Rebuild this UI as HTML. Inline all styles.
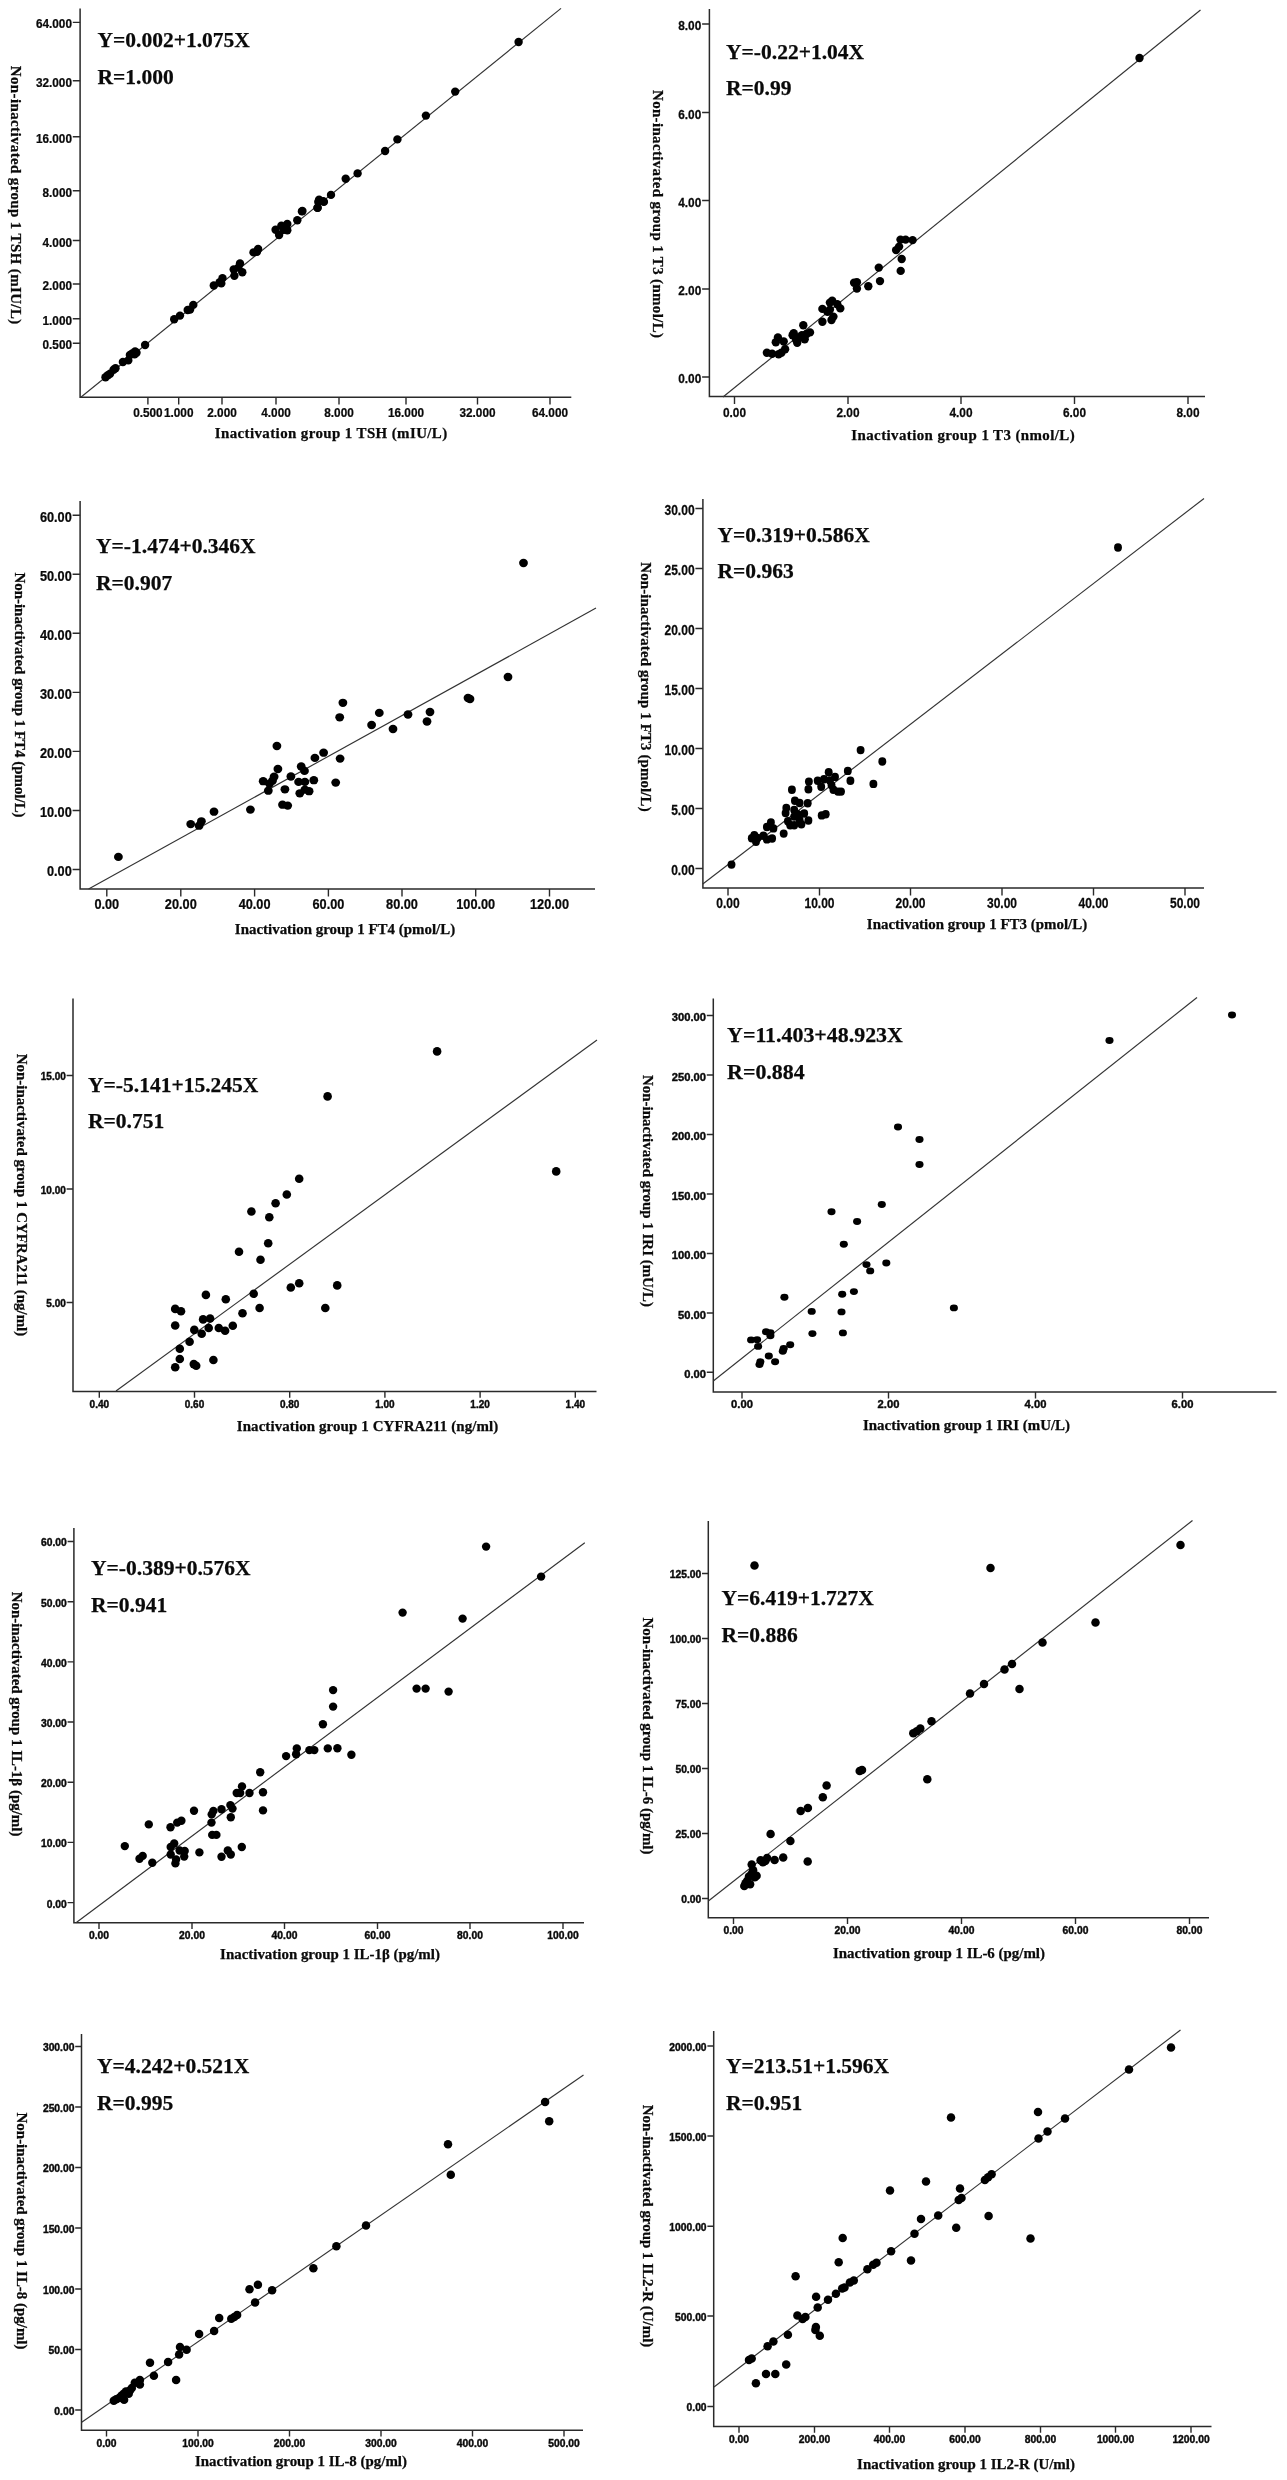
<!DOCTYPE html>
<html><head><meta charset="utf-8"><title>Figure</title>
<style>
html,body{margin:0;padding:0;background:#fff;}
svg{display:block;}
.t{font-family:"Liberation Sans",sans-serif;font-weight:bold;fill:#0a0a0a;stroke:#0a0a0a;}
.s{font-family:"Liberation Serif",serif;font-weight:bold;fill:#0a0a0a;stroke:#0a0a0a;stroke-width:0.25px;}
</style></head><body>
<svg style="will-change:transform;filter:blur(0.35px)" width="1287" height="2480" viewBox="0 0 1287 2480">
<rect width="1287" height="2480" fill="#fff"/>
<g id="p1">
<path d="M80.1 8.5V397.2H571.3" fill="none" stroke="#2a2a2a" stroke-width="1.5"/>
<path d="M80.1 22.4h-7.3M80.1 80.7h-7.3M80.1 136.8h-7.3M80.1 190.8h-7.3M80.1 240.5h-7.3M80.1 284h-7.3M80.1 318.7h-7.3M80.1 343.3h-7.3M147.9 397.2v7.3M178.7 397.2v7.3M222 397.2v7.3M276 397.2v7.3M339 397.2v7.3M406 397.2v7.3M477.5 397.2v7.3M550 397.2v7.3" fill="none" stroke="#2a2a2a" stroke-width="1.4"/>
<text class="t" font-size="13.0" stroke-width="0.25" text-anchor="end" transform="translate(72.0 28.4) scale(0.908 1)">64.000</text>
<text class="t" font-size="13.0" stroke-width="0.25" text-anchor="end" transform="translate(72.0 86.8) scale(0.908 1)">32.000</text>
<text class="t" font-size="13.0" stroke-width="0.25" text-anchor="end" transform="translate(72.0 142.9) scale(0.908 1)">16.000</text>
<text class="t" font-size="13.0" stroke-width="0.25" text-anchor="end" transform="translate(72.0 196.9) scale(0.908 1)">8.000</text>
<text class="t" font-size="13.0" stroke-width="0.25" text-anchor="end" transform="translate(72.0 246.6) scale(0.908 1)">4.000</text>
<text class="t" font-size="13.0" stroke-width="0.25" text-anchor="end" transform="translate(72.0 290.1) scale(0.908 1)">2.000</text>
<text class="t" font-size="13.0" stroke-width="0.25" text-anchor="end" transform="translate(72.0 324.8) scale(0.908 1)">1.000</text>
<text class="t" font-size="13.0" stroke-width="0.25" text-anchor="end" transform="translate(72.0 349.4) scale(0.908 1)">0.500</text>
<text class="t" font-size="13.0" stroke-width="0.25" text-anchor="middle" transform="translate(147.9 416.8) scale(0.908 1)">0.500</text>
<text class="t" font-size="13.0" stroke-width="0.25" text-anchor="middle" transform="translate(178.7 416.8) scale(0.908 1)">1.000</text>
<text class="t" font-size="13.0" stroke-width="0.25" text-anchor="middle" transform="translate(222.0 416.8) scale(0.908 1)">2.000</text>
<text class="t" font-size="13.0" stroke-width="0.25" text-anchor="middle" transform="translate(276.0 416.8) scale(0.908 1)">4.000</text>
<text class="t" font-size="13.0" stroke-width="0.25" text-anchor="middle" transform="translate(339.0 416.8) scale(0.908 1)">8.000</text>
<text class="t" font-size="13.0" stroke-width="0.25" text-anchor="middle" transform="translate(406.0 416.8) scale(0.908 1)">16.000</text>
<text class="t" font-size="13.0" stroke-width="0.25" text-anchor="middle" transform="translate(477.5 416.8) scale(0.908 1)">32.000</text>
<text class="t" font-size="13.0" stroke-width="0.25" text-anchor="middle" transform="translate(550.0 416.8) scale(0.908 1)">64.000</text>
<line x1="80.8" y1="397.2" x2="561" y2="8.4" stroke="#333" stroke-width="1.15"/>
<ellipse cx="105.5" cy="377.2" rx="4.2" ry="4.2"/><ellipse cx="107.8" cy="375.3" rx="4.2" ry="4.2"/><ellipse cx="110.1" cy="373.7" rx="4.2" ry="4.2"/><ellipse cx="113.6" cy="369.7" rx="4.2" ry="4.2"/><ellipse cx="115.5" cy="368.3" rx="4.2" ry="4.2"/><ellipse cx="122.9" cy="362.0" rx="4.2" ry="4.2"/><ellipse cx="128.3" cy="360.4" rx="4.2" ry="4.2"/><ellipse cx="129.9" cy="355.0" rx="4.2" ry="4.2"/><ellipse cx="132.3" cy="353.4" rx="4.2" ry="4.2"/><ellipse cx="135.1" cy="351.5" rx="4.2" ry="4.2"/><ellipse cx="136.5" cy="352.7" rx="4.2" ry="4.2"/><ellipse cx="134.6" cy="354.3" rx="4.2" ry="4.2"/><ellipse cx="145.1" cy="345.0" rx="4.2" ry="4.2"/><ellipse cx="174.2" cy="319.3" rx="4.2" ry="4.2"/><ellipse cx="180.0" cy="315.6" rx="4.2" ry="4.2"/><ellipse cx="187.7" cy="310.0" rx="4.2" ry="4.2"/><ellipse cx="190.1" cy="309.6" rx="4.2" ry="4.2"/><ellipse cx="193.3" cy="304.9" rx="4.2" ry="4.2"/><ellipse cx="213.8" cy="285.5" rx="4.2" ry="4.2"/><ellipse cx="219.7" cy="282.1" rx="4.2" ry="4.2"/><ellipse cx="221.3" cy="283.4" rx="4.2" ry="4.2"/><ellipse cx="222.5" cy="278.1" rx="4.2" ry="4.2"/><ellipse cx="233.7" cy="269.5" rx="4.2" ry="4.2"/><ellipse cx="234.4" cy="275.8" rx="4.2" ry="4.2"/><ellipse cx="238.3" cy="267.6" rx="4.2" ry="4.2"/><ellipse cx="240.0" cy="263.4" rx="4.2" ry="4.2"/><ellipse cx="242.3" cy="272.3" rx="4.2" ry="4.2"/><ellipse cx="253.5" cy="252.4" rx="4.2" ry="4.2"/><ellipse cx="257.0" cy="251.7" rx="4.2" ry="4.2"/><ellipse cx="258.1" cy="249.0" rx="4.2" ry="4.2"/><ellipse cx="275.6" cy="229.8" rx="4.2" ry="4.2"/><ellipse cx="279.1" cy="235.0" rx="4.2" ry="4.2"/><ellipse cx="281.4" cy="225.6" rx="4.2" ry="4.2"/><ellipse cx="283.8" cy="229.8" rx="4.2" ry="4.2"/><ellipse cx="287.3" cy="224.0" rx="4.2" ry="4.2"/><ellipse cx="287.3" cy="230.3" rx="4.2" ry="4.2"/><ellipse cx="297.3" cy="220.3" rx="4.2" ry="4.2"/><ellipse cx="302.4" cy="211.0" rx="4.2" ry="4.2"/><ellipse cx="317.6" cy="207.7" rx="4.2" ry="4.2"/><ellipse cx="318.3" cy="201.9" rx="4.2" ry="4.2"/><ellipse cx="323.9" cy="201.9" rx="4.2" ry="4.2"/><ellipse cx="518.6" cy="42.0" rx="4.2" ry="4.2"/><ellipse cx="455.2" cy="91.6" rx="4.2" ry="4.2"/><ellipse cx="425.9" cy="115.6" rx="4.2" ry="4.2"/><ellipse cx="397.4" cy="139.4" rx="4.2" ry="4.2"/><ellipse cx="385.1" cy="151.0" rx="4.2" ry="4.2"/><ellipse cx="357.6" cy="173.4" rx="4.2" ry="4.2"/><ellipse cx="345.7" cy="178.8" rx="4.2" ry="4.2"/><ellipse cx="331.0" cy="194.9" rx="4.2" ry="4.2"/><ellipse cx="323.3" cy="201.2" rx="4.2" ry="4.2"/><ellipse cx="319.1" cy="199.8" rx="4.2" ry="4.2"/><ellipse cx="317.5" cy="207.9" rx="4.2" ry="4.2"/><ellipse cx="301.9" cy="211.4" rx="4.2" ry="4.2"/>
<text class="s" font-size="21.5" x="97.5" y="46.8">Y=0.002+1.075X</text>
<text class="s" font-size="21.5" x="97.5" y="83.8">R=1.000</text>
<text class="s" font-size="14.93" letter-spacing="0.4" text-anchor="middle" x="331.2" y="437.5">Inactivation group 1 TSH (mIU/L)</text>
<text class="s" font-size="14.93" letter-spacing="0.4" text-anchor="middle" transform="translate(11.3 195.2) rotate(90)">Non-inactivated group 1 TSH (mIU/L)</text>
</g>
<g id="p2">
<path d="M709.4 9V396.6H1205" fill="none" stroke="#2a2a2a" stroke-width="1.5"/>
<path d="M709.4 24h-7.3M709.4 112.5h-7.3M709.4 200.5h-7.3M709.4 289h-7.3M709.4 377h-7.3M734.5 396.6v7.3M848 396.6v7.3M961 396.6v7.3M1074.5 396.6v7.3M1188 396.6v7.3" fill="none" stroke="#2a2a2a" stroke-width="1.4"/>
<text class="t" font-size="13.4" stroke-width="0.25" text-anchor="end" transform="translate(701.3 30.1) scale(0.886 1)">8.00</text>
<text class="t" font-size="13.4" stroke-width="0.25" text-anchor="end" transform="translate(701.3 118.6) scale(0.886 1)">6.00</text>
<text class="t" font-size="13.4" stroke-width="0.25" text-anchor="end" transform="translate(701.3 206.6) scale(0.886 1)">4.00</text>
<text class="t" font-size="13.4" stroke-width="0.25" text-anchor="end" transform="translate(701.3 295.1) scale(0.886 1)">2.00</text>
<text class="t" font-size="13.4" stroke-width="0.25" text-anchor="end" transform="translate(701.3 383.1) scale(0.886 1)">0.00</text>
<text class="t" font-size="13.4" stroke-width="0.25" text-anchor="middle" transform="translate(734.5 416.7) scale(0.886 1)">0.00</text>
<text class="t" font-size="13.4" stroke-width="0.25" text-anchor="middle" transform="translate(848.0 416.7) scale(0.886 1)">2.00</text>
<text class="t" font-size="13.4" stroke-width="0.25" text-anchor="middle" transform="translate(961.0 416.7) scale(0.886 1)">4.00</text>
<text class="t" font-size="13.4" stroke-width="0.25" text-anchor="middle" transform="translate(1074.5 416.7) scale(0.886 1)">6.00</text>
<text class="t" font-size="13.4" stroke-width="0.25" text-anchor="middle" transform="translate(1188.0 416.7) scale(0.886 1)">8.00</text>
<line x1="723" y1="397" x2="1200.5" y2="10" stroke="#333" stroke-width="1.15"/>
<ellipse cx="766.9" cy="352.7" rx="4.2" ry="4.2"/><ellipse cx="772.1" cy="353.8" rx="4.2" ry="4.2"/><ellipse cx="778.6" cy="354.3" rx="4.2" ry="4.2"/><ellipse cx="781.4" cy="352.7" rx="4.2" ry="4.2"/><ellipse cx="785.1" cy="349.2" rx="4.2" ry="4.2"/><ellipse cx="775.8" cy="342.2" rx="4.2" ry="4.2"/><ellipse cx="777.9" cy="337.5" rx="4.2" ry="4.2"/><ellipse cx="783.7" cy="341.5" rx="4.2" ry="4.2"/><ellipse cx="792.6" cy="335.2" rx="4.2" ry="4.2"/><ellipse cx="793.7" cy="333.3" rx="4.2" ry="4.2"/><ellipse cx="796.1" cy="339.9" rx="4.2" ry="4.2"/><ellipse cx="797.2" cy="342.7" rx="4.2" ry="4.2"/><ellipse cx="799.6" cy="337.5" rx="4.2" ry="4.2"/><ellipse cx="801.9" cy="335.2" rx="4.2" ry="4.2"/><ellipse cx="804.7" cy="339.2" rx="4.2" ry="4.2"/><ellipse cx="806.6" cy="334.0" rx="4.2" ry="4.2"/><ellipse cx="810.0" cy="332.4" rx="4.2" ry="4.2"/><ellipse cx="803.3" cy="325.2" rx="4.2" ry="4.2"/><ellipse cx="822.4" cy="321.7" rx="4.2" ry="4.2"/><ellipse cx="822.4" cy="308.9" rx="4.2" ry="4.2"/><ellipse cx="827.5" cy="311.9" rx="4.2" ry="4.2"/><ellipse cx="829.9" cy="302.6" rx="4.2" ry="4.2"/><ellipse cx="832.2" cy="300.7" rx="4.2" ry="4.2"/><ellipse cx="837.3" cy="304.2" rx="4.2" ry="4.2"/><ellipse cx="840.3" cy="308.4" rx="4.2" ry="4.2"/><ellipse cx="833.4" cy="316.6" rx="4.2" ry="4.2"/><ellipse cx="831.5" cy="320.0" rx="4.2" ry="4.2"/><ellipse cx="829.9" cy="309.6" rx="4.2" ry="4.2"/><ellipse cx="854.1" cy="282.8" rx="4.2" ry="4.2"/><ellipse cx="856.9" cy="282.3" rx="4.2" ry="4.2"/><ellipse cx="856.9" cy="288.6" rx="4.2" ry="4.2"/><ellipse cx="868.3" cy="286.2" rx="4.2" ry="4.2"/><ellipse cx="878.8" cy="267.6" rx="4.2" ry="4.2"/><ellipse cx="880.0" cy="281.1" rx="4.2" ry="4.2"/><ellipse cx="896.1" cy="250.1" rx="4.2" ry="4.2"/><ellipse cx="899.1" cy="246.6" rx="4.2" ry="4.2"/><ellipse cx="900.5" cy="239.6" rx="4.2" ry="4.2"/><ellipse cx="905.6" cy="239.6" rx="4.2" ry="4.2"/><ellipse cx="912.6" cy="240.1" rx="4.2" ry="4.2"/><ellipse cx="901.7" cy="259.0" rx="4.2" ry="4.2"/><ellipse cx="900.7" cy="270.9" rx="4.2" ry="4.2"/><ellipse cx="1139.5" cy="58" rx="4.2" ry="4.2"/>
<text class="s" font-size="21.5" x="726.1" y="58.5">Y=-0.22+1.04X</text>
<text class="s" font-size="21.5" x="726.1" y="95.0">R=0.99</text>
<text class="s" font-size="14.93" letter-spacing="0.4" text-anchor="middle" x="963.2" y="440">Inactivation group 1 T3 (nmol/L)</text>
<text class="s" font-size="14.93" letter-spacing="0.36" text-anchor="middle" transform="translate(653 214.18) rotate(90)">Non-inactivated group 1 T3 (nmol/L)</text>
</g>
<g id="p3">
<path d="M80.1 501V889.1H595" fill="none" stroke="#2a2a2a" stroke-width="1.5"/>
<path d="M80.1 515.2h-7.5M80.1 574.25h-7.5M80.1 633.3h-7.5M80.1 692.35h-7.5M80.1 751.4h-7.5M80.1 810.45h-7.5M80.1 869.5h-7.5M106.8 889.1v7.5M180.8 889.1v7.5M254.6 889.1v7.5M328.4 889.1v7.5M402 889.1v7.5M475.7 889.1v7.5M549.5 889.1v7.5" fill="none" stroke="#2a2a2a" stroke-width="1.4"/>
<text class="t" font-size="13.9" stroke-width="0.25" text-anchor="end" transform="translate(71.8 522.0) scale(0.917 1)">60.00</text>
<text class="t" font-size="13.9" stroke-width="0.25" text-anchor="end" transform="translate(71.8 581.0) scale(0.917 1)">50.00</text>
<text class="t" font-size="13.9" stroke-width="0.25" text-anchor="end" transform="translate(71.8 640.1) scale(0.917 1)">40.00</text>
<text class="t" font-size="13.9" stroke-width="0.25" text-anchor="end" transform="translate(71.8 699.1) scale(0.917 1)">30.00</text>
<text class="t" font-size="13.9" stroke-width="0.25" text-anchor="end" transform="translate(71.8 758.2) scale(0.917 1)">20.00</text>
<text class="t" font-size="13.9" stroke-width="0.25" text-anchor="end" transform="translate(71.8 817.2) scale(0.917 1)">10.00</text>
<text class="t" font-size="13.9" stroke-width="0.25" text-anchor="end" transform="translate(71.8 876.3) scale(0.917 1)">0.00</text>
<text class="t" font-size="13.9" stroke-width="0.25" text-anchor="middle" transform="translate(106.8 909.4) scale(0.917 1)">0.00</text>
<text class="t" font-size="13.9" stroke-width="0.25" text-anchor="middle" transform="translate(180.8 909.4) scale(0.917 1)">20.00</text>
<text class="t" font-size="13.9" stroke-width="0.25" text-anchor="middle" transform="translate(254.6 909.4) scale(0.917 1)">40.00</text>
<text class="t" font-size="13.9" stroke-width="0.25" text-anchor="middle" transform="translate(328.4 909.4) scale(0.917 1)">60.00</text>
<text class="t" font-size="13.9" stroke-width="0.25" text-anchor="middle" transform="translate(402.0 909.4) scale(0.917 1)">80.00</text>
<text class="t" font-size="13.9" stroke-width="0.25" text-anchor="middle" transform="translate(475.7 909.4) scale(0.917 1)">100.00</text>
<text class="t" font-size="13.9" stroke-width="0.25" text-anchor="middle" transform="translate(549.5 909.4) scale(0.917 1)">120.00</text>
<line x1="88.6" y1="889.1" x2="596" y2="608.1" stroke="#333" stroke-width="1.15"/>
<ellipse cx="118.4" cy="856.9" rx="4.4" ry="4.15"/><ellipse cx="190.7" cy="824.1" rx="4.4" ry="4.15"/><ellipse cx="199.1" cy="825.7" rx="4.4" ry="4.15"/><ellipse cx="201.4" cy="821.3" rx="4.4" ry="4.15"/><ellipse cx="214.0" cy="811.7" rx="4.4" ry="4.15"/><ellipse cx="250.4" cy="809.6" rx="4.4" ry="4.15"/><ellipse cx="263.2" cy="781.2" rx="4.4" ry="4.15"/><ellipse cx="268.3" cy="790.7" rx="4.4" ry="4.15"/><ellipse cx="269.5" cy="783.7" rx="4.4" ry="4.15"/><ellipse cx="272.5" cy="780.7" rx="4.4" ry="4.15"/><ellipse cx="274.1" cy="776.7" rx="4.4" ry="4.15"/><ellipse cx="277.9" cy="769.0" rx="4.4" ry="4.15"/><ellipse cx="276.9" cy="746.0" rx="4.4" ry="4.15"/><ellipse cx="282.5" cy="804.7" rx="4.4" ry="4.15"/><ellipse cx="287.7" cy="805.6" rx="4.4" ry="4.15"/><ellipse cx="284.9" cy="789.3" rx="4.4" ry="4.15"/><ellipse cx="290.9" cy="776.5" rx="4.4" ry="4.15"/><ellipse cx="298.6" cy="781.9" rx="4.4" ry="4.15"/><ellipse cx="301.2" cy="766.5" rx="4.4" ry="4.15"/><ellipse cx="304.5" cy="770.9" rx="4.4" ry="4.15"/><ellipse cx="299.8" cy="793.3" rx="4.4" ry="4.15"/><ellipse cx="304.9" cy="781.9" rx="4.4" ry="4.15"/><ellipse cx="304.9" cy="789.6" rx="4.4" ry="4.15"/><ellipse cx="309.1" cy="791.2" rx="4.4" ry="4.15"/><ellipse cx="313.8" cy="780.2" rx="4.4" ry="4.15"/><ellipse cx="314.9" cy="757.9" rx="4.4" ry="4.15"/><ellipse cx="323.6" cy="752.7" rx="4.4" ry="4.15"/><ellipse cx="335.7" cy="782.6" rx="4.4" ry="4.15"/><ellipse cx="340.1" cy="758.6" rx="4.4" ry="4.15"/><ellipse cx="339.7" cy="717.3" rx="4.4" ry="4.15"/><ellipse cx="342.9" cy="702.8" rx="4.4" ry="4.15"/><ellipse cx="371.6" cy="725.0" rx="4.4" ry="4.15"/><ellipse cx="379.3" cy="712.9" rx="4.4" ry="4.15"/><ellipse cx="393.0" cy="729.0" rx="4.4" ry="4.15"/><ellipse cx="408.0" cy="714.5" rx="4.4" ry="4.15"/><ellipse cx="427.0" cy="721.5" rx="4.4" ry="4.15"/><ellipse cx="430.0" cy="712.0" rx="4.4" ry="4.15"/><ellipse cx="468.0" cy="698.0" rx="4.4" ry="4.15"/><ellipse cx="470.0" cy="699.0" rx="4.4" ry="4.15"/><ellipse cx="508.0" cy="677.0" rx="4.4" ry="4.15"/><ellipse cx="523.5" cy="563.0" rx="4.4" ry="4.15"/>
<text class="s" font-size="21.5" x="96.1" y="553.0">Y=-1.474+0.346X</text>
<text class="s" font-size="21.5" x="96.1" y="590.0">R=0.907</text>
<text class="s" font-size="14.93" letter-spacing="0" text-anchor="middle" x="345.0" y="934">Inactivation group 1 FT4 (pmol/L)</text>
<text class="s" font-size="14.93" letter-spacing="0" text-anchor="middle" transform="translate(14.9 695.0) rotate(90)">Non-inactivated group 1 FT4 (pmol/L)</text>
</g>
<g id="p4">
<path d="M702.9 499V887.9H1204" fill="none" stroke="#2a2a2a" stroke-width="1.5"/>
<path d="M702.9 508.5h-7.5M702.9 568.5h-7.5M702.9 628.5h-7.5M702.9 688.5h-7.5M702.9 748.5h-7.5M702.9 808.5h-7.5M702.9 868.5h-7.5M728 887.9v7.5M819.5 887.9v7.5M910.5 887.9v7.5M1002 887.9v7.5M1093.5 887.9v7.5M1185 887.9v7.5" fill="none" stroke="#2a2a2a" stroke-width="1.4"/>
<text class="t" font-size="14.0" stroke-width="0.25" text-anchor="end" transform="translate(694.6 514.9) scale(0.86 1)">30.00</text>
<text class="t" font-size="14.0" stroke-width="0.25" text-anchor="end" transform="translate(694.6 574.9) scale(0.86 1)">25.00</text>
<text class="t" font-size="14.0" stroke-width="0.25" text-anchor="end" transform="translate(694.6 634.9) scale(0.86 1)">20.00</text>
<text class="t" font-size="14.0" stroke-width="0.25" text-anchor="end" transform="translate(694.6 694.9) scale(0.86 1)">15.00</text>
<text class="t" font-size="14.0" stroke-width="0.25" text-anchor="end" transform="translate(694.6 754.9) scale(0.86 1)">10.00</text>
<text class="t" font-size="14.0" stroke-width="0.25" text-anchor="end" transform="translate(694.6 814.9) scale(0.86 1)">5.00</text>
<text class="t" font-size="14.0" stroke-width="0.25" text-anchor="end" transform="translate(694.6 874.9) scale(0.86 1)">0.00</text>
<text class="t" font-size="14.0" stroke-width="0.25" text-anchor="middle" transform="translate(728.0 908.1) scale(0.86 1)">0.00</text>
<text class="t" font-size="14.0" stroke-width="0.25" text-anchor="middle" transform="translate(819.5 908.1) scale(0.86 1)">10.00</text>
<text class="t" font-size="14.0" stroke-width="0.25" text-anchor="middle" transform="translate(910.5 908.1) scale(0.86 1)">20.00</text>
<text class="t" font-size="14.0" stroke-width="0.25" text-anchor="middle" transform="translate(1002.0 908.1) scale(0.86 1)">30.00</text>
<text class="t" font-size="14.0" stroke-width="0.25" text-anchor="middle" transform="translate(1093.5 908.1) scale(0.86 1)">40.00</text>
<text class="t" font-size="14.0" stroke-width="0.25" text-anchor="middle" transform="translate(1185.0 908.1) scale(0.86 1)">50.00</text>
<line x1="702.8" y1="884" x2="1204" y2="498.5" stroke="#333" stroke-width="1.15"/>
<ellipse cx="731.5" cy="864.6" rx="3.95" ry="4.2"/><ellipse cx="751.8" cy="838.2" rx="3.95" ry="4.2"/><ellipse cx="754.3" cy="835.2" rx="3.95" ry="4.2"/><ellipse cx="756.0" cy="841.7" rx="3.95" ry="4.2"/><ellipse cx="757.6" cy="838.0" rx="3.95" ry="4.2"/><ellipse cx="763.4" cy="835.7" rx="3.95" ry="4.2"/><ellipse cx="766.9" cy="839.4" rx="3.95" ry="4.2"/><ellipse cx="772.1" cy="838.5" rx="3.95" ry="4.2"/><ellipse cx="766.9" cy="827.0" rx="3.95" ry="4.2"/><ellipse cx="770.9" cy="822.4" rx="3.95" ry="4.2"/><ellipse cx="773.4" cy="828.4" rx="3.95" ry="4.2"/><ellipse cx="783.7" cy="833.6" rx="3.95" ry="4.2"/><ellipse cx="786.3" cy="807.9" rx="3.95" ry="4.2"/><ellipse cx="785.6" cy="813.1" rx="3.95" ry="4.2"/><ellipse cx="787.9" cy="821.2" rx="3.95" ry="4.2"/><ellipse cx="790.2" cy="825.2" rx="3.95" ry="4.2"/><ellipse cx="794.2" cy="825.2" rx="3.95" ry="4.2"/><ellipse cx="794.2" cy="816.6" rx="3.95" ry="4.2"/><ellipse cx="794.2" cy="810.0" rx="3.95" ry="4.2"/><ellipse cx="797.7" cy="814.2" rx="3.95" ry="4.2"/><ellipse cx="799.6" cy="820.0" rx="3.95" ry="4.2"/><ellipse cx="801.4" cy="824.2" rx="3.95" ry="4.2"/><ellipse cx="804.2" cy="813.5" rx="3.95" ry="4.2"/><ellipse cx="808.4" cy="820.5" rx="3.95" ry="4.2"/><ellipse cx="794.9" cy="800.7" rx="3.95" ry="4.2"/><ellipse cx="799.6" cy="803.0" rx="3.95" ry="4.2"/><ellipse cx="807.7" cy="803.3" rx="3.95" ry="4.2"/><ellipse cx="791.9" cy="789.7" rx="3.95" ry="4.2"/><ellipse cx="808.4" cy="789.3" rx="3.95" ry="4.2"/><ellipse cx="808.9" cy="781.6" rx="3.95" ry="4.2"/><ellipse cx="817.7" cy="780.7" rx="3.95" ry="4.2"/><ellipse cx="821.2" cy="786.7" rx="3.95" ry="4.2"/><ellipse cx="824.0" cy="779.3" rx="3.95" ry="4.2"/><ellipse cx="828.7" cy="772.3" rx="3.95" ry="4.2"/><ellipse cx="829.9" cy="780.4" rx="3.95" ry="4.2"/><ellipse cx="831.5" cy="785.1" rx="3.95" ry="4.2"/><ellipse cx="835.0" cy="776.9" rx="3.95" ry="4.2"/><ellipse cx="833.4" cy="789.7" rx="3.95" ry="4.2"/><ellipse cx="838.0" cy="791.6" rx="3.95" ry="4.2"/><ellipse cx="841.0" cy="791.6" rx="3.95" ry="4.2"/><ellipse cx="847.8" cy="770.9" rx="3.95" ry="4.2"/><ellipse cx="850.4" cy="780.7" rx="3.95" ry="4.2"/><ellipse cx="821.7" cy="815.4" rx="3.95" ry="4.2"/><ellipse cx="825.7" cy="814.2" rx="3.95" ry="4.2"/><ellipse cx="860.6" cy="750.1" rx="3.95" ry="4.2"/><ellipse cx="873.4" cy="783.9" rx="3.95" ry="4.2"/><ellipse cx="882.3" cy="761.5" rx="3.95" ry="4.2"/><ellipse cx="1118" cy="547.5" rx="3.95" ry="4.2"/>
<text class="s" font-size="21.5" x="717.6" y="541.5">Y=0.319+0.586X</text>
<text class="s" font-size="21.5" x="717.6" y="578.0">R=0.963</text>
<text class="s" font-size="14.93" letter-spacing="0" text-anchor="middle" x="977.0" y="929">Inactivation group 1 FT3 (pmol/L)</text>
<text class="s" font-size="14.93" letter-spacing="0.12" text-anchor="middle" transform="translate(641 687.06) rotate(90)">Non-inactivated group 1 FT3 (pmol/L)</text>
</g>
<g id="p5">
<path d="M73.0 998.5V1391.4H596.5" fill="none" stroke="#2a2a2a" stroke-width="1.5"/>
<path d="M73.0 1075.5h-6.4M73.0 1189h-6.4M73.0 1302.5h-6.4M99.3 1391.4v6.4M194.5 1391.4v6.4M289.7 1391.4v6.4M384.9 1391.4v6.4M480.1 1391.4v6.4M575.3 1391.4v6.4" fill="none" stroke="#2a2a2a" stroke-width="1.4"/>
<text class="t" font-size="10.0" stroke-width="0.4" text-anchor="end" transform="translate(65.8 1080.4) scale(1.0 1)">15.00</text>
<text class="t" font-size="10.0" stroke-width="0.4" text-anchor="end" transform="translate(65.8 1193.9) scale(1.0 1)">10.00</text>
<text class="t" font-size="10.0" stroke-width="0.4" text-anchor="end" transform="translate(65.8 1307.4) scale(1.0 1)">5.00</text>
<text class="t" font-size="10.0" stroke-width="0.4" text-anchor="middle" transform="translate(99.3 1408.4) scale(1.0 1)">0.40</text>
<text class="t" font-size="10.0" stroke-width="0.4" text-anchor="middle" transform="translate(194.5 1408.4) scale(1.0 1)">0.60</text>
<text class="t" font-size="10.0" stroke-width="0.4" text-anchor="middle" transform="translate(289.7 1408.4) scale(1.0 1)">0.80</text>
<text class="t" font-size="10.0" stroke-width="0.4" text-anchor="middle" transform="translate(384.9 1408.4) scale(1.0 1)">1.00</text>
<text class="t" font-size="10.0" stroke-width="0.4" text-anchor="middle" transform="translate(480.1 1408.4) scale(1.0 1)">1.20</text>
<text class="t" font-size="10.0" stroke-width="0.4" text-anchor="middle" transform="translate(575.3 1408.4) scale(1.0 1)">1.40</text>
<line x1="116" y1="1391" x2="597" y2="1040" stroke="#333" stroke-width="1.15"/>
<ellipse cx="175.2" cy="1367.2" rx="4.3" ry="4.3"/><ellipse cx="179.8" cy="1359.0" rx="4.3" ry="4.3"/><ellipse cx="179.8" cy="1348.8" rx="4.3" ry="4.3"/><ellipse cx="189.6" cy="1341.8" rx="4.3" ry="4.3"/><ellipse cx="193.8" cy="1364.1" rx="4.3" ry="4.3"/><ellipse cx="196.2" cy="1365.8" rx="4.3" ry="4.3"/><ellipse cx="213.4" cy="1360.0" rx="4.3" ry="4.3"/><ellipse cx="175.2" cy="1325.5" rx="4.3" ry="4.3"/><ellipse cx="175.2" cy="1308.9" rx="4.3" ry="4.3"/><ellipse cx="181.0" cy="1311.2" rx="4.3" ry="4.3"/><ellipse cx="194.3" cy="1329.9" rx="4.3" ry="4.3"/><ellipse cx="201.7" cy="1333.8" rx="4.3" ry="4.3"/><ellipse cx="203.1" cy="1319.4" rx="4.3" ry="4.3"/><ellipse cx="210.1" cy="1318.5" rx="4.3" ry="4.3"/><ellipse cx="208.7" cy="1328.0" rx="4.3" ry="4.3"/><ellipse cx="205.9" cy="1294.9" rx="4.3" ry="4.3"/><ellipse cx="218.8" cy="1328.0" rx="4.3" ry="4.3"/><ellipse cx="225.1" cy="1330.8" rx="4.3" ry="4.3"/><ellipse cx="232.8" cy="1325.7" rx="4.3" ry="4.3"/><ellipse cx="225.8" cy="1299.3" rx="4.3" ry="4.3"/><ellipse cx="242.5" cy="1313.3" rx="4.3" ry="4.3"/><ellipse cx="259.6" cy="1308.0" rx="4.3" ry="4.3"/><ellipse cx="253.7" cy="1293.8" rx="4.3" ry="4.3"/><ellipse cx="239.0" cy="1251.8" rx="4.3" ry="4.3"/><ellipse cx="260.5" cy="1259.7" rx="4.3" ry="4.3"/><ellipse cx="268.2" cy="1243.2" rx="4.3" ry="4.3"/><ellipse cx="251.4" cy="1211.5" rx="4.3" ry="4.3"/><ellipse cx="269.3" cy="1217.3" rx="4.3" ry="4.3"/><ellipse cx="275.6" cy="1203.3" rx="4.3" ry="4.3"/><ellipse cx="286.8" cy="1194.5" rx="4.3" ry="4.3"/><ellipse cx="299.2" cy="1178.8" rx="4.3" ry="4.3"/><ellipse cx="290.8" cy="1287.5" rx="4.3" ry="4.3"/><ellipse cx="299.2" cy="1283.3" rx="4.3" ry="4.3"/><ellipse cx="325.3" cy="1308.0" rx="4.3" ry="4.3"/><ellipse cx="337.2" cy="1285.4" rx="4.3" ry="4.3"/><ellipse cx="327.6" cy="1096.4" rx="4.3" ry="4.3"/><ellipse cx="437.1" cy="1051.4" rx="4.3" ry="4.3"/><ellipse cx="556.2" cy="1171.4" rx="4.3" ry="4.3"/>
<text class="s" font-size="21.5" x="88.1" y="1091.5">Y=-5.141+15.245X</text>
<text class="s" font-size="21.5" x="88.1" y="1127.5">R=0.751</text>
<text class="s" font-size="14.93" letter-spacing="0.11" text-anchor="middle" x="367.555" y="1431">Inactivation group 1 CYFRA211 (ng/ml)</text>
<text class="s" font-size="14.93" letter-spacing="0" text-anchor="middle" transform="translate(16.8 1195.0) rotate(90)">Non-inactivated group 1 CYFRA211 (ng/ml)</text>
</g>
<g id="p6">
<path d="M713.3 998.5V1392.0H1276.5" fill="none" stroke="#2a2a2a" stroke-width="1.5"/>
<path d="M713.3 1015.5h-6.5M713.3 1075h-6.5M713.3 1134.5h-6.5M713.3 1194h-6.5M713.3 1253.5h-6.5M713.3 1313h-6.5M713.3 1372.3h-6.5M742 1392.0v6.5M888.5 1392.0v6.5M1035.5 1392.0v6.5M1182.5 1392.0v6.5" fill="none" stroke="#2a2a2a" stroke-width="1.4"/>
<text class="t" font-size="11.2" stroke-width="0.4" text-anchor="end" transform="translate(706.0 1021.0) scale(1.0 1)">300.00</text>
<text class="t" font-size="11.2" stroke-width="0.4" text-anchor="end" transform="translate(706.0 1080.5) scale(1.0 1)">250.00</text>
<text class="t" font-size="11.2" stroke-width="0.4" text-anchor="end" transform="translate(706.0 1140.0) scale(1.0 1)">200.00</text>
<text class="t" font-size="11.2" stroke-width="0.4" text-anchor="end" transform="translate(706.0 1199.5) scale(1.0 1)">150.00</text>
<text class="t" font-size="11.2" stroke-width="0.4" text-anchor="end" transform="translate(706.0 1259.0) scale(1.0 1)">100.00</text>
<text class="t" font-size="11.2" stroke-width="0.4" text-anchor="end" transform="translate(706.0 1318.5) scale(1.0 1)">50.00</text>
<text class="t" font-size="11.2" stroke-width="0.4" text-anchor="end" transform="translate(706.0 1377.8) scale(1.0 1)">0.00</text>
<text class="t" font-size="11.2" stroke-width="0.4" text-anchor="middle" transform="translate(742.0 1408.1) scale(1.0 1)">0.00</text>
<text class="t" font-size="11.2" stroke-width="0.4" text-anchor="middle" transform="translate(888.5 1408.1) scale(1.0 1)">2.00</text>
<text class="t" font-size="11.2" stroke-width="0.4" text-anchor="middle" transform="translate(1035.5 1408.1) scale(1.0 1)">4.00</text>
<text class="t" font-size="11.2" stroke-width="0.4" text-anchor="middle" transform="translate(1182.5 1408.1) scale(1.0 1)">6.00</text>
<line x1="713.3" y1="1381" x2="1197" y2="997.5" stroke="#333" stroke-width="1.15"/>
<ellipse cx="751.1" cy="1339.9" rx="4.05" ry="3.45"/><ellipse cx="757.1" cy="1339.7" rx="4.05" ry="3.45"/><ellipse cx="758.1" cy="1346.4" rx="4.05" ry="3.45"/><ellipse cx="759.5" cy="1364.6" rx="4.05" ry="3.45"/><ellipse cx="760.4" cy="1361.8" rx="4.05" ry="3.45"/><ellipse cx="768.8" cy="1356.0" rx="4.05" ry="3.45"/><ellipse cx="775.1" cy="1361.8" rx="4.05" ry="3.45"/><ellipse cx="782.8" cy="1351.3" rx="4.05" ry="3.45"/><ellipse cx="783.7" cy="1348.5" rx="4.05" ry="3.45"/><ellipse cx="790.2" cy="1344.8" rx="4.05" ry="3.45"/><ellipse cx="766.0" cy="1331.7" rx="4.05" ry="3.45"/><ellipse cx="770.4" cy="1335.7" rx="4.05" ry="3.45"/><ellipse cx="770.4" cy="1332.7" rx="4.05" ry="3.45"/><ellipse cx="784.4" cy="1297.2" rx="4.05" ry="3.45"/><ellipse cx="811.7" cy="1311.4" rx="4.05" ry="3.45"/><ellipse cx="812.4" cy="1333.6" rx="4.05" ry="3.45"/><ellipse cx="841.5" cy="1311.9" rx="4.05" ry="3.45"/><ellipse cx="842.2" cy="1294.2" rx="4.05" ry="3.45"/><ellipse cx="842.9" cy="1332.9" rx="4.05" ry="3.45"/><ellipse cx="853.9" cy="1291.6" rx="4.05" ry="3.45"/><ellipse cx="843.8" cy="1244.3" rx="4.05" ry="3.45"/><ellipse cx="831.5" cy="1211.7" rx="4.05" ry="3.45"/><ellipse cx="857.1" cy="1221.5" rx="4.05" ry="3.45"/><ellipse cx="866.5" cy="1264.6" rx="4.05" ry="3.45"/><ellipse cx="870.2" cy="1270.9" rx="4.05" ry="3.45"/><ellipse cx="886.3" cy="1263.0" rx="4.05" ry="3.45"/><ellipse cx="881.8" cy="1204.5" rx="4.05" ry="3.45"/><ellipse cx="953.9" cy="1307.9" rx="4.05" ry="3.45"/><ellipse cx="898" cy="1127" rx="4.05" ry="3.45"/><ellipse cx="919.5" cy="1139.5" rx="4.05" ry="3.45"/><ellipse cx="919.5" cy="1164.5" rx="4.05" ry="3.45"/><ellipse cx="1109.5" cy="1040.5" rx="4.05" ry="3.45"/><ellipse cx="1232" cy="1015" rx="4.05" ry="3.45"/>
<text class="s" font-size="21.9" x="727.1" y="1042.0">Y=11.403+48.923X</text>
<text class="s" font-size="21.9" x="727.1" y="1079.0">R=0.884</text>
<text class="s" font-size="14.93" letter-spacing="0" text-anchor="middle" x="966.5" y="1430">Inactivation group 1 IRI (mU/L)</text>
<text class="s" font-size="14.93" letter-spacing="0" text-anchor="middle" transform="translate(643 1191.0) rotate(90)">Non-inactivated group 1 IRI (mU/L)</text>
</g>
<g id="p7">
<path d="M73.9 1528V1922.7H584" fill="none" stroke="#2a2a2a" stroke-width="1.5"/>
<path d="M73.9 1541.5h-6.3M73.9 1601.7h-6.3M73.9 1661.9h-6.3M73.9 1722.0h-6.3M73.9 1782.2h-6.3M73.9 1842.4h-6.3M73.9 1902.6h-6.3M99 1922.7v6.3M192 1922.7v6.3M284.5 1922.7v6.3M377.5 1922.7v6.3M470 1922.7v6.3M563 1922.7v6.3" fill="none" stroke="#2a2a2a" stroke-width="1.4"/>
<text class="t" font-size="10.3" stroke-width="0.4" text-anchor="end" transform="translate(66.8 1546.4) scale(1.0 1)">60.00</text>
<text class="t" font-size="10.3" stroke-width="0.4" text-anchor="end" transform="translate(66.8 1606.6) scale(1.0 1)">50.00</text>
<text class="t" font-size="10.3" stroke-width="0.4" text-anchor="end" transform="translate(66.8 1666.8) scale(1.0 1)">40.00</text>
<text class="t" font-size="10.3" stroke-width="0.4" text-anchor="end" transform="translate(66.8 1726.9) scale(1.0 1)">30.00</text>
<text class="t" font-size="10.3" stroke-width="0.4" text-anchor="end" transform="translate(66.8 1787.1) scale(1.0 1)">20.00</text>
<text class="t" font-size="10.3" stroke-width="0.4" text-anchor="end" transform="translate(66.8 1847.3) scale(1.0 1)">10.00</text>
<text class="t" font-size="10.3" stroke-width="0.4" text-anchor="end" transform="translate(66.8 1907.5) scale(1.0 1)">0.00</text>
<text class="t" font-size="10.3" stroke-width="0.4" text-anchor="middle" transform="translate(99.0 1939.2) scale(1.0 1)">0.00</text>
<text class="t" font-size="10.3" stroke-width="0.4" text-anchor="middle" transform="translate(192.0 1939.2) scale(1.0 1)">20.00</text>
<text class="t" font-size="10.3" stroke-width="0.4" text-anchor="middle" transform="translate(284.5 1939.2) scale(1.0 1)">40.00</text>
<text class="t" font-size="10.3" stroke-width="0.4" text-anchor="middle" transform="translate(377.5 1939.2) scale(1.0 1)">60.00</text>
<text class="t" font-size="10.3" stroke-width="0.4" text-anchor="middle" transform="translate(470.0 1939.2) scale(1.0 1)">80.00</text>
<text class="t" font-size="10.3" stroke-width="0.4" text-anchor="middle" transform="translate(563.0 1939.2) scale(1.0 1)">100.00</text>
<line x1="76" y1="1922.7" x2="584.8" y2="1542.7" stroke="#333" stroke-width="1.15"/>
<ellipse cx="124.8" cy="1846.1" rx="4.2" ry="4.2"/><ellipse cx="139.5" cy="1858.7" rx="4.2" ry="4.2"/><ellipse cx="142.7" cy="1855.9" rx="4.2" ry="4.2"/><ellipse cx="152.3" cy="1862.7" rx="4.2" ry="4.2"/><ellipse cx="148.8" cy="1824.4" rx="4.2" ry="4.2"/><ellipse cx="170.5" cy="1827.2" rx="4.2" ry="4.2"/><ellipse cx="170.7" cy="1847.0" rx="4.2" ry="4.2"/><ellipse cx="170.7" cy="1854.5" rx="4.2" ry="4.2"/><ellipse cx="174.2" cy="1843.5" rx="4.2" ry="4.2"/><ellipse cx="175.4" cy="1863.4" rx="4.2" ry="4.2"/><ellipse cx="176.1" cy="1859.4" rx="4.2" ry="4.2"/><ellipse cx="177.2" cy="1822.6" rx="4.2" ry="4.2"/><ellipse cx="181.4" cy="1820.7" rx="4.2" ry="4.2"/><ellipse cx="179.6" cy="1850.5" rx="4.2" ry="4.2"/><ellipse cx="184.7" cy="1851.0" rx="4.2" ry="4.2"/><ellipse cx="184.2" cy="1856.6" rx="4.2" ry="4.2"/><ellipse cx="199.4" cy="1852.4" rx="4.2" ry="4.2"/><ellipse cx="194.0" cy="1810.7" rx="4.2" ry="4.2"/><ellipse cx="211.7" cy="1814.4" rx="4.2" ry="4.2"/><ellipse cx="211.5" cy="1822.6" rx="4.2" ry="4.2"/><ellipse cx="213.4" cy="1810.9" rx="4.2" ry="4.2"/><ellipse cx="212.2" cy="1834.9" rx="4.2" ry="4.2"/><ellipse cx="216.4" cy="1834.9" rx="4.2" ry="4.2"/><ellipse cx="221.5" cy="1809.3" rx="4.2" ry="4.2"/><ellipse cx="221.5" cy="1856.8" rx="4.2" ry="4.2"/><ellipse cx="227.8" cy="1850.5" rx="4.2" ry="4.2"/><ellipse cx="230.8" cy="1854.5" rx="4.2" ry="4.2"/><ellipse cx="230.8" cy="1817.2" rx="4.2" ry="4.2"/><ellipse cx="230.4" cy="1805.1" rx="4.2" ry="4.2"/><ellipse cx="232.5" cy="1808.6" rx="4.2" ry="4.2"/><ellipse cx="241.8" cy="1847.0" rx="4.2" ry="4.2"/><ellipse cx="236.7" cy="1793.0" rx="4.2" ry="4.2"/><ellipse cx="240.2" cy="1793.0" rx="4.2" ry="4.2"/><ellipse cx="242.0" cy="1786.4" rx="4.2" ry="4.2"/><ellipse cx="249.5" cy="1793.0" rx="4.2" ry="4.2"/><ellipse cx="260.2" cy="1772.2" rx="4.2" ry="4.2"/><ellipse cx="263.0" cy="1792.3" rx="4.2" ry="4.2"/><ellipse cx="263.0" cy="1810.4" rx="4.2" ry="4.2"/><ellipse cx="286.1" cy="1756.1" rx="4.2" ry="4.2"/><ellipse cx="296.1" cy="1754.3" rx="4.2" ry="4.2"/><ellipse cx="296.8" cy="1748.4" rx="4.2" ry="4.2"/><ellipse cx="309.4" cy="1750.1" rx="4.2" ry="4.2"/><ellipse cx="314.3" cy="1750.1" rx="4.2" ry="4.2"/><ellipse cx="327.8" cy="1748.4" rx="4.2" ry="4.2"/><ellipse cx="337.4" cy="1748.2" rx="4.2" ry="4.2"/><ellipse cx="351.4" cy="1754.7" rx="4.2" ry="4.2"/><ellipse cx="322.9" cy="1724.2" rx="4.2" ry="4.2"/><ellipse cx="333.1" cy="1690.1" rx="4.2" ry="4.2"/><ellipse cx="333.1" cy="1706.6" rx="4.2" ry="4.2"/><ellipse cx="402.6" cy="1612.6" rx="4.2" ry="4.2"/><ellipse cx="416.6" cy="1688.6" rx="4.2" ry="4.2"/><ellipse cx="425.6" cy="1688.6" rx="4.2" ry="4.2"/><ellipse cx="448.6" cy="1691.6" rx="4.2" ry="4.2"/><ellipse cx="462.6" cy="1618.6" rx="4.2" ry="4.2"/><ellipse cx="486.1" cy="1546.6" rx="4.2" ry="4.2"/><ellipse cx="541.1" cy="1576.6" rx="4.2" ry="4.2"/>
<text class="s" font-size="21.5" x="91.1" y="1574.5">Y=-0.389+0.576X</text>
<text class="s" font-size="21.5" x="91.1" y="1611.5">R=0.941</text>
<text class="s" font-size="14.93" letter-spacing="0" text-anchor="middle" x="330.0" y="1959">Inactivation group 1 IL-1β (pg/ml)</text>
<text class="s" font-size="14.93" letter-spacing="0" text-anchor="middle" transform="translate(12 1714.0) rotate(90)">Non-inactivated group 1 IL-1β (pg/ml)</text>
</g>
<g id="p8">
<path d="M708.3 1521V1917.8H1209" fill="none" stroke="#2a2a2a" stroke-width="1.5"/>
<path d="M708.3 1573.5h-6.3M708.3 1638.5h-6.3M708.3 1703.5h-6.3M708.3 1768.5h-6.3M708.3 1833.5h-6.3M708.3 1898.5h-6.3M733.5 1917.8v6.3M847.5 1917.8v6.3M961.5 1917.8v6.3M1075.5 1917.8v6.3M1189.5 1917.8v6.3" fill="none" stroke="#2a2a2a" stroke-width="1.4"/>
<text class="t" font-size="10.3" stroke-width="0.4" text-anchor="end" transform="translate(701.2 1578.4) scale(1.0 1)">125.00</text>
<text class="t" font-size="10.3" stroke-width="0.4" text-anchor="end" transform="translate(701.2 1643.4) scale(1.0 1)">100.00</text>
<text class="t" font-size="10.3" stroke-width="0.4" text-anchor="end" transform="translate(701.2 1708.4) scale(1.0 1)">75.00</text>
<text class="t" font-size="10.3" stroke-width="0.4" text-anchor="end" transform="translate(701.2 1773.4) scale(1.0 1)">50.00</text>
<text class="t" font-size="10.3" stroke-width="0.4" text-anchor="end" transform="translate(701.2 1838.4) scale(1.0 1)">25.00</text>
<text class="t" font-size="10.3" stroke-width="0.4" text-anchor="end" transform="translate(701.2 1903.4) scale(1.0 1)">0.00</text>
<text class="t" font-size="10.3" stroke-width="0.4" text-anchor="middle" transform="translate(733.5 1934.3) scale(1.0 1)">0.00</text>
<text class="t" font-size="10.3" stroke-width="0.4" text-anchor="middle" transform="translate(847.5 1934.3) scale(1.0 1)">20.00</text>
<text class="t" font-size="10.3" stroke-width="0.4" text-anchor="middle" transform="translate(961.5 1934.3) scale(1.0 1)">40.00</text>
<text class="t" font-size="10.3" stroke-width="0.4" text-anchor="middle" transform="translate(1075.5 1934.3) scale(1.0 1)">60.00</text>
<text class="t" font-size="10.3" stroke-width="0.4" text-anchor="middle" transform="translate(1189.5 1934.3) scale(1.0 1)">80.00</text>
<line x1="708.4" y1="1901" x2="1192.5" y2="1520.5" stroke="#333" stroke-width="1.15"/>
<ellipse cx="744.3" cy="1886.0" rx="4.25" ry="4.25"/><ellipse cx="745.5" cy="1883.2" rx="4.25" ry="4.25"/><ellipse cx="747.3" cy="1880.8" rx="4.25" ry="4.25"/><ellipse cx="750.1" cy="1884.3" rx="4.25" ry="4.25"/><ellipse cx="749.0" cy="1876.6" rx="4.25" ry="4.25"/><ellipse cx="751.7" cy="1873.8" rx="4.25" ry="4.25"/><ellipse cx="753.1" cy="1870.3" rx="4.25" ry="4.25"/><ellipse cx="754.8" cy="1877.3" rx="4.25" ry="4.25"/><ellipse cx="756.6" cy="1875.7" rx="4.25" ry="4.25"/><ellipse cx="751.7" cy="1864.5" rx="4.25" ry="4.25"/><ellipse cx="760.6" cy="1860.3" rx="4.25" ry="4.25"/><ellipse cx="762.9" cy="1862.2" rx="4.25" ry="4.25"/><ellipse cx="765.3" cy="1861.0" rx="4.25" ry="4.25"/><ellipse cx="767.1" cy="1858.0" rx="4.25" ry="4.25"/><ellipse cx="774.6" cy="1859.9" rx="4.25" ry="4.25"/><ellipse cx="783.2" cy="1857.5" rx="4.25" ry="4.25"/><ellipse cx="807.7" cy="1861.5" rx="4.25" ry="4.25"/><ellipse cx="790.4" cy="1841.0" rx="4.25" ry="4.25"/><ellipse cx="770.6" cy="1834.0" rx="4.25" ry="4.25"/><ellipse cx="800.7" cy="1811.1" rx="4.25" ry="4.25"/><ellipse cx="807.9" cy="1807.9" rx="4.25" ry="4.25"/><ellipse cx="822.8" cy="1797.2" rx="4.25" ry="4.25"/><ellipse cx="826.6" cy="1785.5" rx="4.25" ry="4.25"/><ellipse cx="859.7" cy="1771.0" rx="4.25" ry="4.25"/><ellipse cx="862.0" cy="1769.9" rx="4.25" ry="4.25"/><ellipse cx="927.3" cy="1779.2" rx="4.25" ry="4.25"/><ellipse cx="913.3" cy="1733.3" rx="4.25" ry="4.25"/><ellipse cx="916.8" cy="1731.2" rx="4.25" ry="4.25"/><ellipse cx="920.3" cy="1728.6" rx="4.25" ry="4.25"/><ellipse cx="931.5" cy="1721.2" rx="4.25" ry="4.25"/><ellipse cx="754.5" cy="1565.5" rx="4.25" ry="4.25"/><ellipse cx="990.5" cy="1568" rx="4.25" ry="4.25"/><ellipse cx="1180.5" cy="1545" rx="4.25" ry="4.25"/><ellipse cx="1095.5" cy="1622.5" rx="4.25" ry="4.25"/><ellipse cx="1042.5" cy="1642.5" rx="4.25" ry="4.25"/><ellipse cx="1012" cy="1664" rx="4.25" ry="4.25"/><ellipse cx="1004.5" cy="1669.5" rx="4.25" ry="4.25"/><ellipse cx="1019.5" cy="1689" rx="4.25" ry="4.25"/><ellipse cx="984" cy="1684" rx="4.25" ry="4.25"/><ellipse cx="970" cy="1693.5" rx="4.25" ry="4.25"/>
<text class="s" font-size="21.5" x="721.6" y="1604.5">Y=6.419+1.727X</text>
<text class="s" font-size="21.5" x="721.6" y="1641.5">R=0.886</text>
<text class="s" font-size="14.93" letter-spacing="0" text-anchor="middle" x="939.0" y="1957.5">Inactivation group 1 IL-6 (pg/ml)</text>
<text class="s" font-size="14.93" letter-spacing="0" text-anchor="middle" transform="translate(643 1736.0) rotate(90)">Non-inactivated group 1 IL-6 (pg/ml)</text>
</g>
<g id="p9">
<path d="M81.5 2034V2430.3H583" fill="none" stroke="#2a2a2a" stroke-width="1.5"/>
<path d="M81.5 2046.5h-6.3M81.5 2107h-6.3M81.5 2167.5h-6.3M81.5 2228h-6.3M81.5 2289h-6.3M81.5 2349.5h-6.3M81.5 2410h-6.3M106.5 2430.3v6.3M198 2430.3v6.3M289.5 2430.3v6.3M381 2430.3v6.3M472.5 2430.3v6.3M564 2430.3v6.3" fill="none" stroke="#2a2a2a" stroke-width="1.4"/>
<text class="t" font-size="10.3" stroke-width="0.4" text-anchor="end" transform="translate(74.4 2051.4) scale(1.0 1)">300.00</text>
<text class="t" font-size="10.3" stroke-width="0.4" text-anchor="end" transform="translate(74.4 2111.9) scale(1.0 1)">250.00</text>
<text class="t" font-size="10.3" stroke-width="0.4" text-anchor="end" transform="translate(74.4 2172.4) scale(1.0 1)">200.00</text>
<text class="t" font-size="10.3" stroke-width="0.4" text-anchor="end" transform="translate(74.4 2232.9) scale(1.0 1)">150.00</text>
<text class="t" font-size="10.3" stroke-width="0.4" text-anchor="end" transform="translate(74.4 2293.9) scale(1.0 1)">100.00</text>
<text class="t" font-size="10.3" stroke-width="0.4" text-anchor="end" transform="translate(74.4 2354.4) scale(1.0 1)">50.00</text>
<text class="t" font-size="10.3" stroke-width="0.4" text-anchor="end" transform="translate(74.4 2414.9) scale(1.0 1)">0.00</text>
<text class="t" font-size="10.3" stroke-width="0.4" text-anchor="middle" transform="translate(106.5 2446.8) scale(1.0 1)">0.00</text>
<text class="t" font-size="10.3" stroke-width="0.4" text-anchor="middle" transform="translate(198.0 2446.8) scale(1.0 1)">100.00</text>
<text class="t" font-size="10.3" stroke-width="0.4" text-anchor="middle" transform="translate(289.5 2446.8) scale(1.0 1)">200.00</text>
<text class="t" font-size="10.3" stroke-width="0.4" text-anchor="middle" transform="translate(381.0 2446.8) scale(1.0 1)">300.00</text>
<text class="t" font-size="10.3" stroke-width="0.4" text-anchor="middle" transform="translate(472.5 2446.8) scale(1.0 1)">400.00</text>
<text class="t" font-size="10.3" stroke-width="0.4" text-anchor="middle" transform="translate(564.0 2446.8) scale(1.0 1)">500.00</text>
<line x1="81.7" y1="2422.3" x2="583.5" y2="2075" stroke="#333" stroke-width="1.15"/>
<ellipse cx="113.8" cy="2400.8" rx="4.25" ry="4.25"/><ellipse cx="116.2" cy="2399.2" rx="4.25" ry="4.25"/><ellipse cx="119.0" cy="2398.0" rx="4.25" ry="4.25"/><ellipse cx="121.3" cy="2395.7" rx="4.25" ry="4.25"/><ellipse cx="124.1" cy="2399.7" rx="4.25" ry="4.25"/><ellipse cx="123.6" cy="2393.8" rx="4.25" ry="4.25"/><ellipse cx="125.9" cy="2391.5" rx="4.25" ry="4.25"/><ellipse cx="128.7" cy="2393.8" rx="4.25" ry="4.25"/><ellipse cx="130.1" cy="2390.3" rx="4.25" ry="4.25"/><ellipse cx="131.8" cy="2388.0" rx="4.25" ry="4.25"/><ellipse cx="134.8" cy="2382.7" rx="4.25" ry="4.25"/><ellipse cx="139.9" cy="2384.5" rx="4.25" ry="4.25"/><ellipse cx="139.9" cy="2379.9" rx="4.25" ry="4.25"/><ellipse cx="150.0" cy="2362.8" rx="4.25" ry="4.25"/><ellipse cx="153.9" cy="2375.7" rx="4.25" ry="4.25"/><ellipse cx="168.1" cy="2362.1" rx="4.25" ry="4.25"/><ellipse cx="176.1" cy="2379.9" rx="4.25" ry="4.25"/><ellipse cx="179.1" cy="2354.5" rx="4.25" ry="4.25"/><ellipse cx="180.0" cy="2347.0" rx="4.25" ry="4.25"/><ellipse cx="186.6" cy="2349.8" rx="4.25" ry="4.25"/><ellipse cx="199.1" cy="2333.9" rx="4.25" ry="4.25"/><ellipse cx="214.1" cy="2330.9" rx="4.25" ry="4.25"/><ellipse cx="219.2" cy="2318.1" rx="4.25" ry="4.25"/><ellipse cx="231.3" cy="2318.8" rx="4.25" ry="4.25"/><ellipse cx="234.3" cy="2316.9" rx="4.25" ry="4.25"/><ellipse cx="237.1" cy="2315.1" rx="4.25" ry="4.25"/><ellipse cx="249.5" cy="2289.2" rx="4.25" ry="4.25"/><ellipse cx="257.9" cy="2284.8" rx="4.25" ry="4.25"/><ellipse cx="255.1" cy="2302.5" rx="4.25" ry="4.25"/><ellipse cx="272.1" cy="2290.3" rx="4.25" ry="4.25"/><ellipse cx="313.4" cy="2268.2" rx="4.25" ry="4.25"/><ellipse cx="336.4" cy="2246.3" rx="4.25" ry="4.25"/><ellipse cx="366" cy="2225.5" rx="4.25" ry="4.25"/><ellipse cx="448" cy="2144.2" rx="4.25" ry="4.25"/><ellipse cx="450.8" cy="2174.7" rx="4.25" ry="4.25"/><ellipse cx="545.1" cy="2101.9" rx="4.25" ry="4.25"/><ellipse cx="549.2" cy="2121.3" rx="4.25" ry="4.25"/>
<text class="s" font-size="21.5" x="97.1" y="2072.5">Y=4.242+0.521X</text>
<text class="s" font-size="21.5" x="97.1" y="2109.5">R=0.995</text>
<text class="s" font-size="14.93" letter-spacing="0" text-anchor="middle" x="301.0" y="2466">Inactivation group 1 IL-8 (pg/ml)</text>
<text class="s" font-size="14.93" letter-spacing="0" text-anchor="middle" transform="translate(17 2231.0) rotate(90)">Non-inactivated group 1 IL-8 (pg/ml)</text>
</g>
<g id="p10">
<path d="M713.7 2031V2426.5H1211.5" fill="none" stroke="#2a2a2a" stroke-width="1.5"/>
<path d="M713.7 2046h-6.3M713.7 2136h-6.3M713.7 2226.2h-6.3M713.7 2316h-6.3M713.7 2406.5h-6.3M739 2426.5v6.3M814.5 2426.5v6.3M889.5 2426.5v6.3M965 2426.5v6.3M1040.5 2426.5v6.3M1115.5 2426.5v6.3M1191 2426.5v6.3" fill="none" stroke="#2a2a2a" stroke-width="1.4"/>
<text class="t" font-size="10.3" stroke-width="0.4" text-anchor="end" transform="translate(706.6 2050.9) scale(1.0 1)">2000.00</text>
<text class="t" font-size="10.3" stroke-width="0.4" text-anchor="end" transform="translate(706.6 2140.9) scale(1.0 1)">1500.00</text>
<text class="t" font-size="10.3" stroke-width="0.4" text-anchor="end" transform="translate(706.6 2231.1) scale(1.0 1)">1000.00</text>
<text class="t" font-size="10.3" stroke-width="0.4" text-anchor="end" transform="translate(706.6 2320.9) scale(1.0 1)">500.00</text>
<text class="t" font-size="10.3" stroke-width="0.4" text-anchor="end" transform="translate(706.6 2411.4) scale(1.0 1)">0.00</text>
<text class="t" font-size="10.3" stroke-width="0.4" text-anchor="middle" transform="translate(739.0 2443.3) scale(1.0 1)">0.00</text>
<text class="t" font-size="10.3" stroke-width="0.4" text-anchor="middle" transform="translate(814.5 2443.3) scale(1.0 1)">200.00</text>
<text class="t" font-size="10.3" stroke-width="0.4" text-anchor="middle" transform="translate(889.5 2443.3) scale(1.0 1)">400.00</text>
<text class="t" font-size="10.3" stroke-width="0.4" text-anchor="middle" transform="translate(965.0 2443.3) scale(1.0 1)">600.00</text>
<text class="t" font-size="10.3" stroke-width="0.4" text-anchor="middle" transform="translate(1040.5 2443.3) scale(1.0 1)">800.00</text>
<text class="t" font-size="10.3" stroke-width="0.4" text-anchor="middle" transform="translate(1115.5 2443.3) scale(1.0 1)">1000.00</text>
<text class="t" font-size="10.3" stroke-width="0.4" text-anchor="middle" transform="translate(1191.0 2443.3) scale(1.0 1)">1200.00</text>
<line x1="714" y1="2387" x2="1180.5" y2="2030" stroke="#333" stroke-width="1.15"/>
<ellipse cx="749.0" cy="2359.9" rx="4.25" ry="4.25"/><ellipse cx="751.7" cy="2358.5" rx="4.25" ry="4.25"/><ellipse cx="755.9" cy="2383.2" rx="4.25" ry="4.25"/><ellipse cx="766.0" cy="2373.9" rx="4.25" ry="4.25"/><ellipse cx="775.3" cy="2374.1" rx="4.25" ry="4.25"/><ellipse cx="786.2" cy="2364.6" rx="4.25" ry="4.25"/><ellipse cx="767.6" cy="2346.2" rx="4.25" ry="4.25"/><ellipse cx="773.4" cy="2341.5" rx="4.25" ry="4.25"/><ellipse cx="787.9" cy="2334.7" rx="4.25" ry="4.25"/><ellipse cx="795.6" cy="2276.2" rx="4.25" ry="4.25"/><ellipse cx="797.4" cy="2315.6" rx="4.25" ry="4.25"/><ellipse cx="802.6" cy="2318.9" rx="4.25" ry="4.25"/><ellipse cx="805.4" cy="2317.0" rx="4.25" ry="4.25"/><ellipse cx="815.9" cy="2327.0" rx="4.25" ry="4.25"/><ellipse cx="815.4" cy="2330.1" rx="4.25" ry="4.25"/><ellipse cx="819.8" cy="2335.7" rx="4.25" ry="4.25"/><ellipse cx="816.1" cy="2296.7" rx="4.25" ry="4.25"/><ellipse cx="817.7" cy="2307.5" rx="4.25" ry="4.25"/><ellipse cx="828.0" cy="2299.8" rx="4.25" ry="4.25"/><ellipse cx="835.9" cy="2293.7" rx="4.25" ry="4.25"/><ellipse cx="842.2" cy="2288.6" rx="4.25" ry="4.25"/><ellipse cx="844.5" cy="2287.6" rx="4.25" ry="4.25"/><ellipse cx="849.9" cy="2282.5" rx="4.25" ry="4.25"/><ellipse cx="853.8" cy="2280.4" rx="4.25" ry="4.25"/><ellipse cx="838.7" cy="2262.2" rx="4.25" ry="4.25"/><ellipse cx="842.7" cy="2238.0" rx="4.25" ry="4.25"/><ellipse cx="867.4" cy="2269.2" rx="4.25" ry="4.25"/><ellipse cx="873.2" cy="2264.8" rx="4.25" ry="4.25"/><ellipse cx="876.5" cy="2262.7" rx="4.25" ry="4.25"/><ellipse cx="891.1" cy="2251.3" rx="4.25" ry="4.25"/><ellipse cx="911.0" cy="2260.6" rx="4.25" ry="4.25"/><ellipse cx="914.5" cy="2233.8" rx="4.25" ry="4.25"/><ellipse cx="921.0" cy="2219.1" rx="4.25" ry="4.25"/><ellipse cx="938.2" cy="2215.4" rx="4.25" ry="4.25"/><ellipse cx="956.2" cy="2227.7" rx="4.25" ry="4.25"/><ellipse cx="988.6" cy="2215.9" rx="4.25" ry="4.25"/><ellipse cx="958.7" cy="2200.0" rx="4.25" ry="4.25"/><ellipse cx="1171" cy="2047.5" rx="4.25" ry="4.25"/><ellipse cx="1129" cy="2069.5" rx="4.25" ry="4.25"/><ellipse cx="1065" cy="2118.5" rx="4.25" ry="4.25"/><ellipse cx="1047.5" cy="2131.5" rx="4.25" ry="4.25"/><ellipse cx="1038.5" cy="2138.5" rx="4.25" ry="4.25"/><ellipse cx="1038" cy="2112" rx="4.25" ry="4.25"/><ellipse cx="1030.5" cy="2238.5" rx="4.25" ry="4.25"/><ellipse cx="951" cy="2117.5" rx="4.25" ry="4.25"/><ellipse cx="991.6" cy="2174.3" rx="4.25" ry="4.25"/><ellipse cx="988.1" cy="2177.3" rx="4.25" ry="4.25"/><ellipse cx="984.9" cy="2180" rx="4.25" ry="4.25"/><ellipse cx="960" cy="2188.5" rx="4.25" ry="4.25"/><ellipse cx="961.5" cy="2198" rx="4.25" ry="4.25"/><ellipse cx="926" cy="2181.5" rx="4.25" ry="4.25"/><ellipse cx="890" cy="2190.5" rx="4.25" ry="4.25"/>
<text class="s" font-size="21.5" x="726.1" y="2072.5">Y=213.51+1.596X</text>
<text class="s" font-size="21.5" x="726.1" y="2109.5">R=0.951</text>
<text class="s" font-size="14.93" letter-spacing="0" text-anchor="middle" x="966.0" y="2469">Inactivation group 1 IL2-R (U/ml)</text>
<text class="s" font-size="14.93" letter-spacing="0" text-anchor="middle" transform="translate(643 2226.0) rotate(90)">Non-inactivated group 1 IL2-R (U/ml)</text>
</g>
</svg>
</body></html>
